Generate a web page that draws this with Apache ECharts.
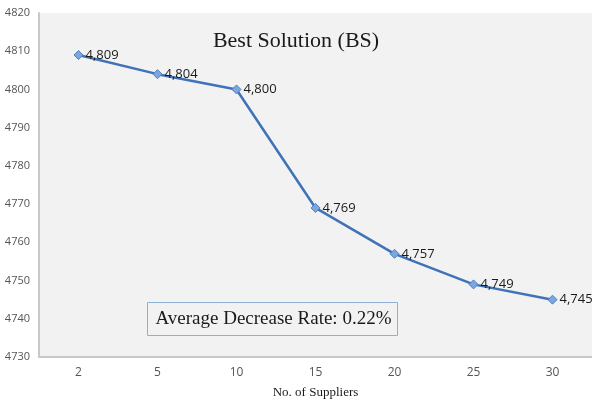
<!DOCTYPE html>
<html>
<head>
<meta charset="utf-8">
<script src="https://cdn.jsdelivr.net/npm/echarts@6/dist/echarts.min.js"></script>
<style>
  html, body { margin: 0; padding: 0; background: #ffffff; }
  #chart { width: 592px; height: 402px; }
</style>
</head>
<body>
<div id="chart"></div>
<script>
// Number of suppliers vs. best solution value
const suppliers = ['2', '5', '10', '15', '20', '25', '30'];
const bestSolution = [4809, 4804, 4800, 4769, 4757, 4749, 4745];
const yTicks = { min: 4730, max: 4820, step: 10 };
const noteText = 'Average Decrease Rate: 0.22%';

const chart = echarts.init(document.getElementById('chart'));

chart.setOption({
  animation: false,
  backgroundColor: '#ffffff',
  title: {
    text: 'Best Solution (BS)',
    left: 'center',
    top: 25,
    textStyle: {
      fontFamily: 'Liberation Serif',
      fontWeight: 'normal',
      fontSize: 22,
      color: '#1a1a1a'
    }
  },
  grid: {
    left: 39,
    right: 0,
    top: 13,
    bottom: 45,
    outerBoundsMode: 'none',
    containLabel: false,
    show: true,
    backgroundColor: '#f2f2f2',
    borderWidth: 0
  },
  xAxis: {
    type: 'category',
    data: suppliers,
    boundaryGap: true,
    name: 'No. of Suppliers',
    nameLocation: 'middle',
    nameGap: 29,
    nameTextStyle: {
      fontFamily: 'Liberation Serif',
      fontSize: 13,
      color: '#1a1a1a'
    },
    axisLine: { lineStyle: { color: '#c8c8c8', width: 2 } },
    axisTick: { show: false },
    axisLabel: {
      margin: 10,
      fontFamily: 'Open Sans',
      fontSize: 12,
      color: '#555555'
    }
  },
  yAxis: {
    type: 'value',
    min: yTicks.min,
    max: yTicks.max,
    interval: yTicks.step,
    axisLine: { show: true, lineStyle: { color: '#c8c8c8', width: 2 } },
    axisTick: { show: false },
    splitLine: { show: false },
    axisLabel: {
      margin: 9,
      fontFamily: 'Open Sans',
      fontSize: 11,
      color: '#555555',
      formatter: v => String(v)
    }
  },
  series: [{
    type: 'line',
    data: bestSolution,
    symbol: 'diamond',
    symbolSize: 9,
    lineStyle: { color: '#3f72b8', width: 2.5 },
    itemStyle: { color: '#7ea6de', borderColor: '#4f80c4', borderWidth: 1 },
    label: {
      show: true,
      position: 'right',
      distance: 2,
      fontFamily: 'Open Sans',
      fontSize: 13,
      color: '#1a1a1a',
      formatter: p => p.value.toLocaleString('en-US')
    }
  }],
  graphic: [{
    type: 'group',
    left: 147,
    top: 302,
    children: [{
      type: 'rect',
      shape: { x: 0, y: 0, width: 250, height: 33 },
      style: { fill: '#f2f2f2', stroke: '#8fb0d6', lineWidth: 1 }
    }, {
      type: 'text',
      x: 8,
      y: 17,
      style: {
        text: noteText,
        fontFamily: 'Liberation Serif',
        fontSize: 19,
        fill: '#1a1a1a',
        textVerticalAlign: 'middle'
      }
    }]
  }]
});
</script>
</body>
</html>
